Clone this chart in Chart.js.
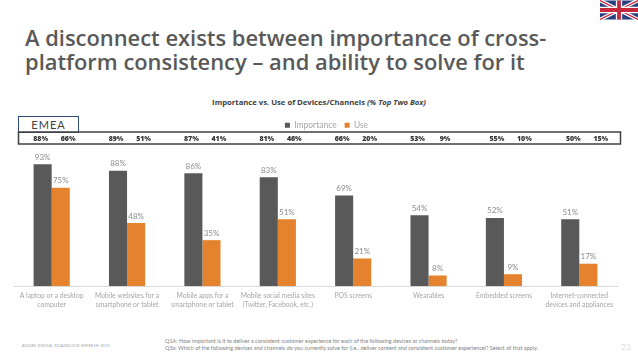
<!DOCTYPE html>
<html>
<head>
<meta charset="utf-8">
<script src="https://cdn.jsdelivr.net/npm/chart.js@4"></script>
<style>
    html, body { margin: 0; padding: 0; background: #fff; }
    body { width: 638px; height: 359px; position: relative; overflow: hidden; font-family: Lato, sans-serif; }
    .abs { position: absolute; white-space: nowrap; }
    #wrap { position: absolute; left: 0; top: 108px; width: 638px; height: 215px; }
    #titulo { left: 25px; top: 26px; font: 600 21.9px/24px "Open Sans", sans-serif; color: #595959; }
    #subtitulo { left: 0; width: 638px; top: 97px; text-align: center; font: 700 7.7px "Open Sans", sans-serif; color: #404040; }
    #emea { left: 18px; top: 116px; width: 59px; height: 15px; border: 1px solid #2f4a7a; font: 11px/15px Lato, sans-serif; letter-spacing: 1px; color: #404040; text-align: center; }
    #fuente { left: 22px; top: 343px; font-size: 3.7px; color: #999; letter-spacing: .3px; }
    #preguntas { left: 165px; top: 338px; font-size: 5.5px; line-height: 7px; color: #7f7f7f; }
    #pagina { left: 621px; top: 342px; font-size: 8px; color: #ddd; }
    #bandera { left: 600px; top: 0; }
</style>
</head>
<body>
<div id="titulo" class="abs">A disconnect exists between importance of cross-<br>platform consistency – and ability to solve for it</div>
<div id="subtitulo" class="abs">Importance vs. Use of Devices/Channels <i>(% Top Two Box)</i></div>
<div id="emea" class="abs">EMEA</div>
<svg id="bandera" class="abs" width="38" height="20" viewBox="0 0 60 30">
    <rect width="60" height="30" fill="#2b3f7e"/>
    <path d="M0 0L60 30M60 0L0 30" stroke="#fff" stroke-width="6"/>
    <path d="M0 0L60 30M60 0L0 30" stroke="#c8283c" stroke-width="2"/>
    <path d="M30 0V30M0 15H60" stroke="#fff" stroke-width="10"/>
    <path d="M30 0V30M0 15H60" stroke="#c8283c" stroke-width="6"/>
</svg>
<div id="wrap"><canvas id="grafico"></canvas></div>
<div id="fuente" class="abs">ADOBE DIGITAL ROADBLOCK REFRESH 2015</div>
<div id="preguntas" class="abs">Q1A: How important is it to deliver a consistent customer experience for each of the following devices or channels today?<br>Q3a: Which of the following devices and channels do you currently solve for (i.e., deliver content and consistent customer experience)? Select all that apply.</div>
<div id="pagina" class="abs">23</div>
<script>
    const categorias = [
        ['A laptop or a desktop', 'computer'],
        ['Mobile websites for a', 'smartphone or tablet'],
        ['Mobile apps for a', 'smartphone or tablet'],
        ['Mobile social media sites', '(Twitter, Facebook, etc.)'],
        'POS screens',
        'Wearables',
        'Embedded screens',
        ['Internet-connected', 'devices and appliances']
    ];
    const importancia = [93, 88, 86, 83, 69, 54, 52, 51];
    const uso = [75, 48, 35, 51, 21, 8, 9, 17];
    const filaImportancia = [88, 89, 87, 81, 66, 53, 55, 50];
    const filaUso = [66, 51, 41, 46, 20, 9, 10, 15];
    const desplazaFila = [0, 0, 0, 0, 0, 0, 4, 5];

    // hueco bajo la leyenda y leyenda un poco a la derecha, como en la original
    const leyendaPlugin = {
        id: 'leyendaHueco',
        beforeInit(chart) {
            const leyenda = chart.legend;
            const fit = leyenda.fit;
            const draw = leyenda.draw;
            leyenda.fit = function () {
                fit.call(this);
                this.height = 41;
            };
            leyenda.draw = function () {
                this.ctx.save();
                this.ctx.translate(11, -1);
                draw.call(this);
                this.ctx.restore();
            };
        }
    };

    // etiquetas encima de cada barra y recuadro con la fila de porcentajes
    const etiquetasPlugin = {
        id: 'etiquetas',
        afterDatasetsDraw(chart) {
            const ctx = chart.ctx;
            const escalaX = chart.scales.x;
            ctx.save();
            ctx.textAlign = 'center';
            ctx.textBaseline = 'bottom';
            ctx.font = '8px Lato';
            ctx.fillStyle = '#8c8c8c';
            chart.data.datasets.forEach((ds, d) => {
                chart.getDatasetMeta(d).data.forEach((barra, i) => {
                    ctx.fillText(ds.data[i] + '%', barra.x, barra.y - 3);
                });
            });

            ctx.strokeStyle = '#404040';
            ctx.lineWidth = 1.5;
            ctx.strokeRect(18.5, 132 - 108, 602, 12);
            ctx.font = '900 7px "Open Sans"';
            ctx.fillStyle = '#333';
            ctx.textBaseline = 'middle';
            categorias.forEach((_, i) => {
                const x = escalaX.getPixelForValue(i) + desplazaFila[i];
                ctx.fillText(filaImportancia[i] + '%', x - 11, 138.5 - 108);
                ctx.fillText(filaUso[i] + '%', x + 16.5, 138.5 - 108);
            });
            ctx.restore();
        }
    };

    new Chart(document.getElementById('grafico'), {
        type: 'bar',
        data: {
            labels: categorias,
            datasets: [
                { label: 'Importance', data: importancia, backgroundColor: '#595959' },
                { label: 'Use', data: uso, backgroundColor: '#e5822d' }
            ]
        },
        options: {
            responsive: true,
            maintainAspectRatio: false,
            animation: false,
            layout: { padding: { left: 14, right: 21, top: 6, bottom: 0 } },
            datasets: { bar: { categoryPercentage: 0.48, barPercentage: 1 } },
            plugins: {
                tooltip: { enabled: false },
                legend: {
                    position: 'top',
                    labels: {
                        boxWidth: 5,
                        boxHeight: 5,
                        padding: 8,
                        color: '#a6a6a6',
                        font: { family: 'Lato', size: 8.5 }
                    }
                }
            },
            scales: {
                y: { display: false, min: 0, max: 100 },
                x: {
                    afterFit(escala) { escala.height = 37; },
                    grid: { display: false, drawTicks: false },
                    border: { color: '#d9d9d9' },
                    ticks: {
                        maxRotation: 0,
                        autoSkip: false,
                        padding: 5,
                        color: '#a6a6a6',
                        font: { family: 'Lato', size: 6.8, lineHeight: 1.35 }
                    }
                }
            }
        },
        plugins: [leyendaPlugin, etiquetasPlugin]
    });
</script>
</body>
</html>
